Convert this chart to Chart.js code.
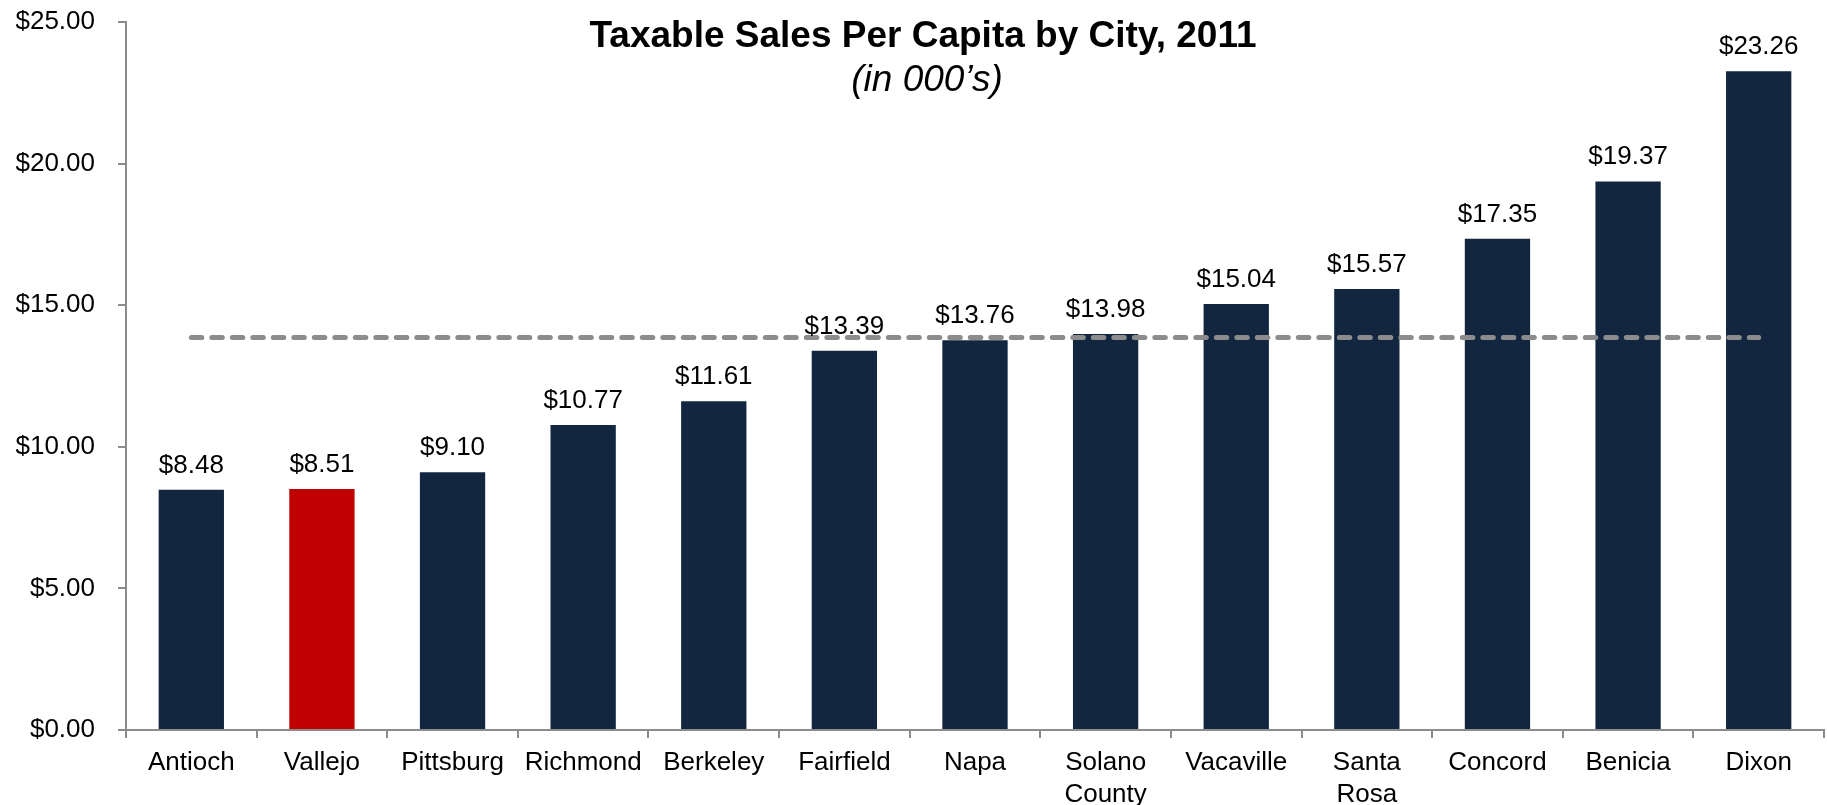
<!DOCTYPE html>
<html>
<head>
<meta charset="utf-8">
<title>Taxable Sales Per Capita by City, 2011</title>
<script src="https://cdn.jsdelivr.net/npm/chart.js@4.4.1/dist/chart.umd.min.js"></script>
<style>
  html, body { margin: 0; padding: 0; background: #fff; }
  #wrap { position: relative; width: 1827px; height: 805px; }
</style>
</head>
<body>
<div id="wrap"><canvas id="sales-chart"></canvas></div>
<script>
// Cidades e vendas tributáveis per capita (em milhares)
const cities = [
    'Antioch', 'Vallejo', 'Pittsburg', 'Richmond', 'Berkeley', 'Fairfield', 'Napa',
    ['Solano', 'County'], 'Vacaville', ['Santa', 'Rosa'], 'Concord', 'Benicia', 'Dixon'
];
const salesPerCapita = [8.48, 8.51, 9.10, 10.77, 11.61, 13.39, 13.76, 13.98, 15.04, 15.57, 17.35, 19.37, 23.26];
const highlightCity = 'Vallejo';
// Linha tracejada de referência (média)
const averageSales = 13.86;
const yTicks = [0, 5, 10, 15, 20, 25];

const navy = '#13263f';
const red = '#c00000';
const axisGray = '#8c8c8c';
const fontFamily = '"Liberation Sans", Arial, Helvetica, sans-serif';

const barColors = cities.map(c => (c === highlightCity ? red : navy));
const money = v => '$' + Number(v).toFixed(2);

// Título e subtítulo desenhados dentro da área do gráfico
const titlePlugin = {
    id: 'titleInside',
    afterDraw(chart) {
        const ctx = chart.ctx;
        ctx.save();
        ctx.fillStyle = '#000';
        ctx.textAlign = 'center';
        ctx.textBaseline = 'alphabetic';
        ctx.font = 'bold 37px ' + fontFamily;
        ctx.fillText('Taxable Sales Per Capita by City, 2011', 923, 47);
        ctx.font = 'italic 37px ' + fontFamily;
        ctx.fillText('(in 000\u2019s)', 927, 91);
        ctx.restore();
    }
};

// Rótulos de valor acima de cada barra
const valueLabels = {
    id: 'valueLabels',
    afterDatasetsDraw(chart) {
        const meta = chart.getDatasetMeta(0);
        const ctx = chart.ctx;
        ctx.save();
        ctx.fillStyle = '#000';
        ctx.font = '26px ' + fontFamily;
        ctx.textAlign = 'center';
        ctx.textBaseline = 'alphabetic';
        meta.data.forEach((bar, i) => {
            ctx.fillText(money(salesPerCapita[i]), bar.x, bar.y - 17);
        });
        ctx.restore();
    }
};

const config = {
    type: 'bar',
    data: {
        labels: cities,
        datasets: [{
            type: 'bar',
            label: 'Taxable Sales Per Capita',
            data: salesPerCapita,
            backgroundColor: barColors,
            borderWidth: 0,
            categoryPercentage: 0.5,
            barPercentage: 1,
            order: 1
        }, {
            type: 'line',
            label: 'Average',
            data: cities.map(() => averageSales),
            borderColor: axisGray,
            borderWidth: 5,
            borderDash: [10.5, 10],
            borderCapStyle: 'round',
            pointRadius: 0,
            fill: false,
            order: 0
        }]
    },
    options: {
        responsive: true,
        maintainAspectRatio: false,
        animation: false,
        layout: { padding: { left: 0, right: 3, top: 22, bottom: 0 } },
        plugins: {
            legend: { display: false },
            tooltip: { enabled: false }
        },
        scales: {
            x: {
                afterFit: axis => { axis.height = 75; },
                grid: {
                    offset: true,
                    drawOnChartArea: false,
                    drawTicks: true,
                    tickLength: 8,
                    color: axisGray,
                    lineWidth: 2
                },
                border: { color: axisGray, width: 2 },
                ticks: {
                    color: '#000',
                    font: { family: fontFamily, size: 26, lineHeight: 1.22 },
                    padding: 9,
                    maxRotation: 0,
                    autoSkip: false
                }
            },
            y: {
                min: 0,
                max: 25,
                afterBuildTicks: axis => { axis.ticks = yTicks.map(v => ({ value: v })); },
                afterFit: axis => {
                    axis.width = 126;
                    axis.paddingTop = 0;
                    axis.paddingBottom = 0;
                },
                grid: {
                    drawOnChartArea: false,
                    drawTicks: true,
                    tickLength: 8,
                    color: axisGray,
                    lineWidth: 2
                },
                border: { color: axisGray, width: 2 },
                ticks: {
                    color: '#000',
                    font: { family: fontFamily, size: 26 },
                    padding: 23,
                    callback: v => money(v)
                }
            }
        }
    },
    plugins: [valueLabels, titlePlugin]
};

new Chart(document.getElementById('sales-chart').getContext('2d'), config);
</script>
</body>
</html>
